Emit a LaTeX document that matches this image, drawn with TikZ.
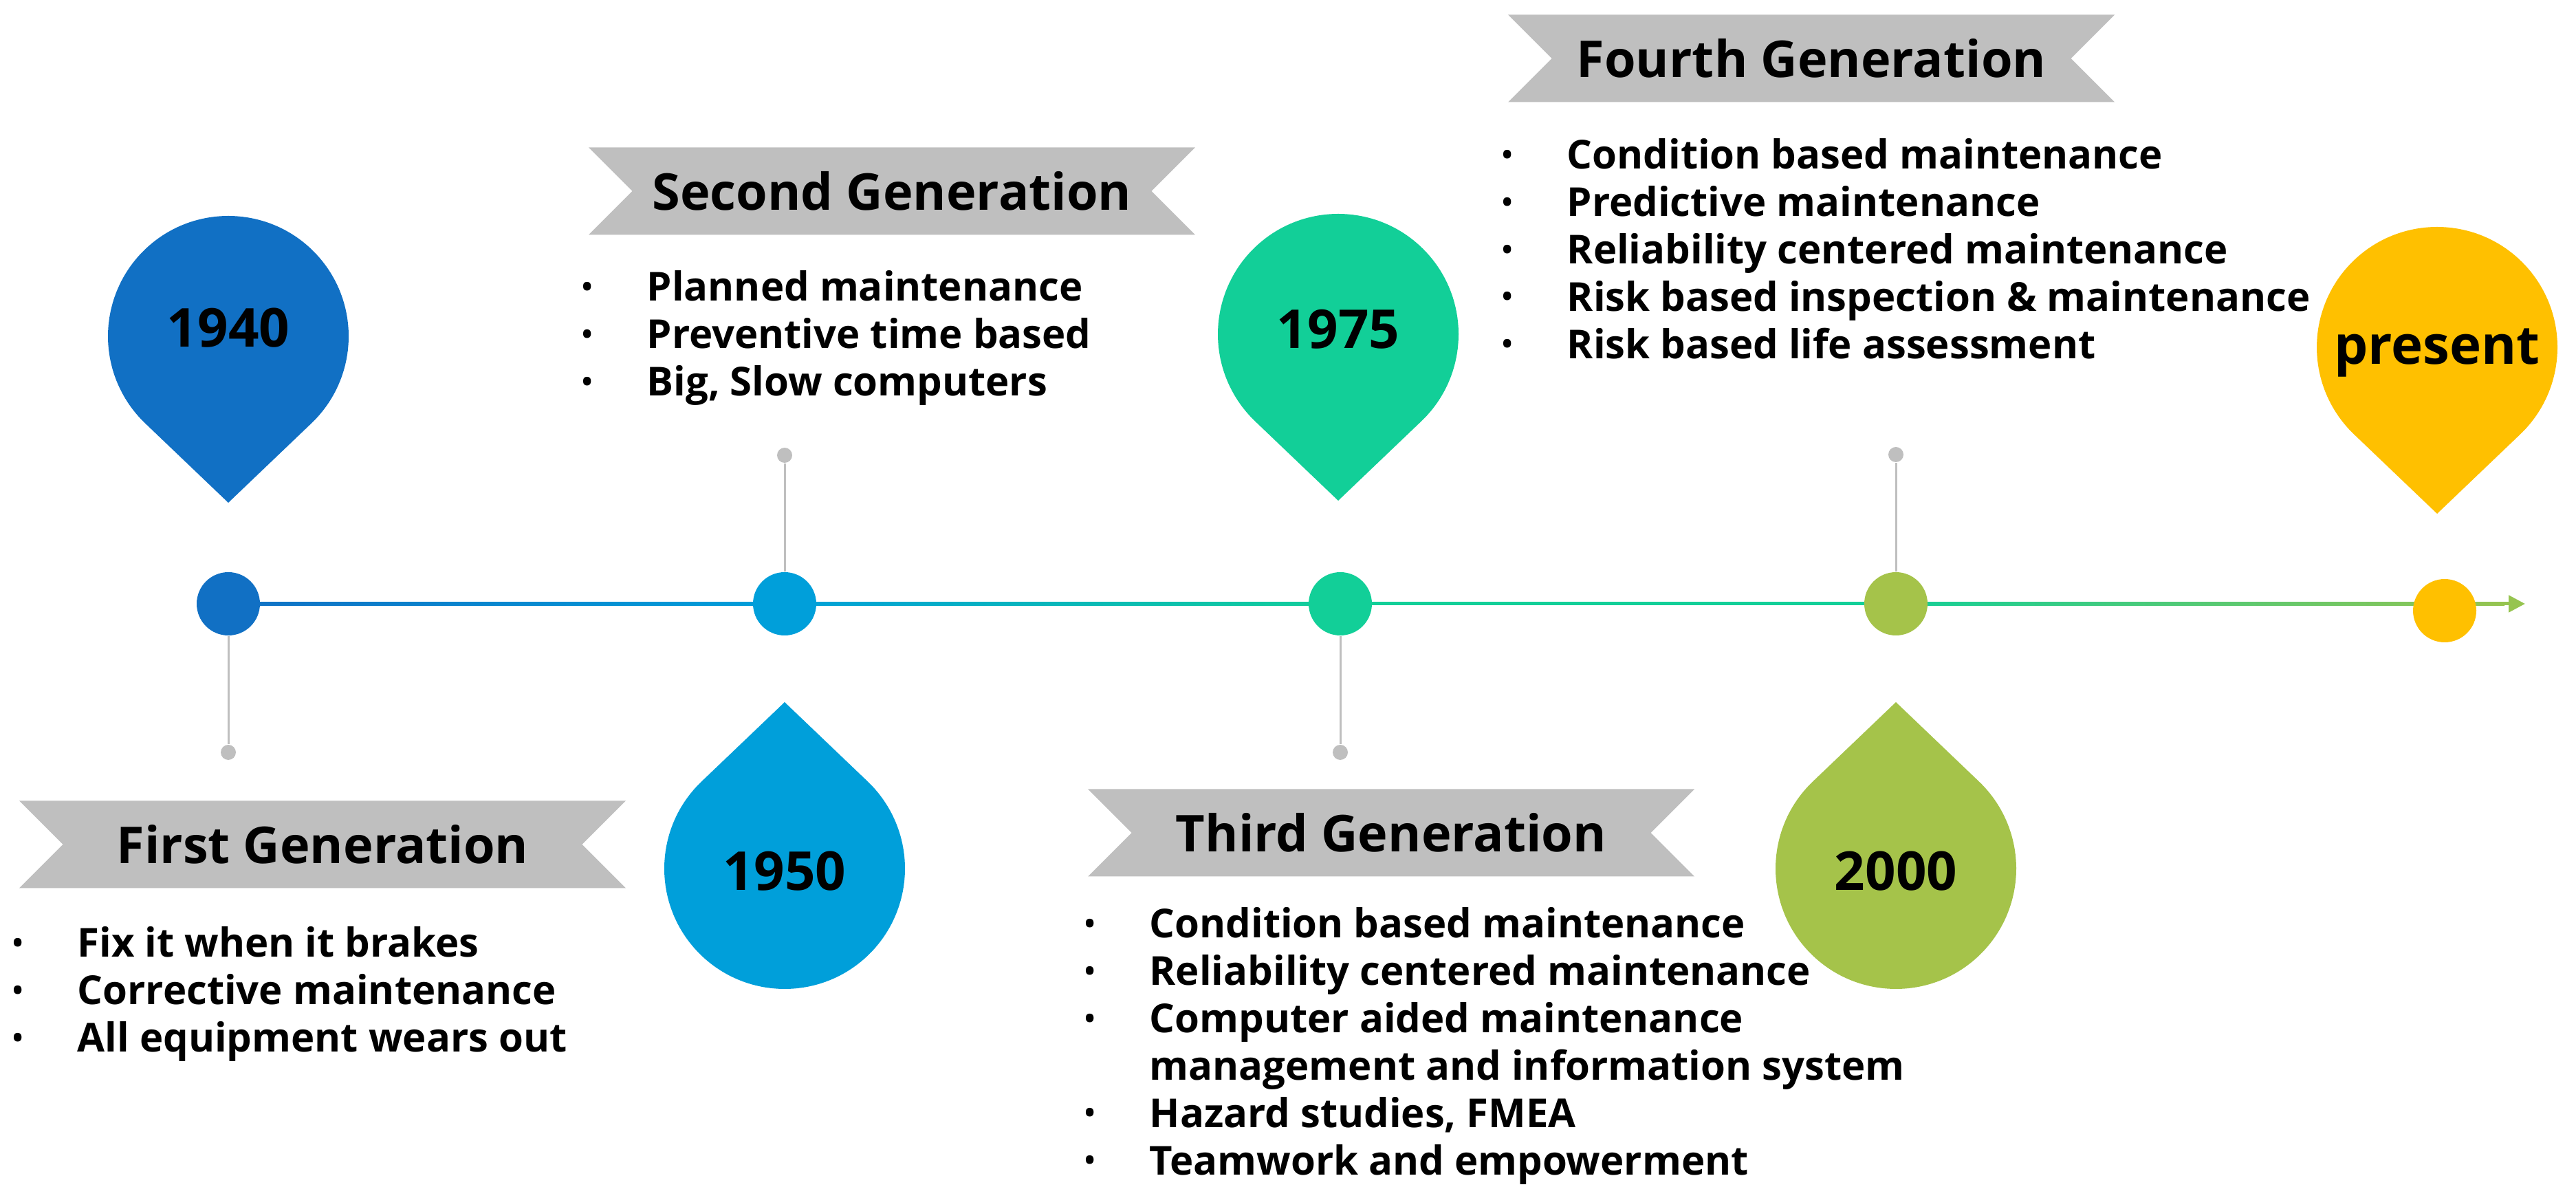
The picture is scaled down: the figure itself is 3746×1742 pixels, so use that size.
\documentclass[tikz,border=0pt]{standalone}
\usepackage{fontspec}
\setmainfont{Open Sans}
\usepackage{array}
\usepackage{tikz}
\usetikzlibrary{shapes.symbols, arrows.meta, calc, backgrounds}
\definecolor{GenBlue}{RGB}{17, 112, 196}
\definecolor{GenSky}{RGB}{0, 159, 218}
\definecolor{GenTeal}{RGB}{18, 207, 152}
\definecolor{GenGreen}{RGB}{165, 195, 74}
\definecolor{GenGold}{RGB}{255, 192, 0}
\definecolor{GenGrey}{RGB}{191, 191, 191}
\definecolor{LineGreen}{RGB}{150, 196, 80}
\newcommand{\gbullet}{\raisebox{1.9pt}{\scalebox{0.7}{\textbullet}}}

\begin{document}
\begin{tikzpicture}[x=0.1mm,y=0.1mm,
  dot/.style={circle, inner sep=0pt, minimum size=9.2mm},
  tip/.style={circle, fill=GenGrey, inner sep=0pt, minimum size=2.2mm},
  stem/.style={GenGrey, line width=0.3mm},
  year/.style={anchor=base, inner sep=0pt, font=\fontsize{22.2}{26}\selectfont\bfseries},
  banner/.style={signal, signal to=nowhere, signal from=west and east, fill=GenGrey,
    minimum width=88.2mm, minimum height=12.7mm, inner sep=0pt,
    font=\fontsize{21}{25}\selectfont\bfseries},
  itemlist/.style={anchor=base west, inner sep=0pt, font=\fontsize{16.5}{19.6}\selectfont\bfseries}]
  \path[use as bounding box] (0,0) rectangle (3746,1742);

  % Timeline dots
  \node[dot, fill=GenBlue] (d1940) at (332,864) {};
  \node[dot, fill=GenSky] (d1950) at (1141,864) {};
  \node[dot, fill=GenTeal] (d1975) at (1949,864) {};
  \node[dot, fill=GenGreen] (d2000) at (2757,864) {};
  \node[dot, fill=GenGold] (dnow) at (3555,854) {};
  \coordinate (tlend) at (3672,864);

  % Timeline line
  \begin{scope}[on background layer]
    \path[left color=GenBlue, right color=GenSky] ($(d1940.center)+(0,-2.5)$) rectangle ($(d1950.center)+(0,2.5)$);
    \path[left color=GenSky, right color=GenTeal] ($(d1950.center)+(0,-2.5)$) rectangle ($(d1975.center)+(0,2.5)$);
    \path[fill=GenTeal] ($(d1975.center)+(0,-2.5)$) rectangle ($(d2000.center)+(0,2.5)$);
    \path[left color=GenTeal, right color=LineGreen] ($(d2000.center)+(0,-2.5)$) rectangle ($(tlend)+(-30,2.5)$);
  \end{scope}
  \draw[LineGreen, line width=0.5mm, -{Triangle[length=2.4mm,width=2.4mm]}] ($(tlend)+(-32,0)$) -- (tlend);

  % Stems and tips
  \node[tip] (t1940) at (332,648) {};
  \node[tip] (t1950) at (1141,1080) {};
  \node[tip] (t1975) at (1949,648) {};
  \node[tip] (t2000) at (2757,1081) {};
  \draw[stem] (d1940) -- (t1940);
  \draw[stem] (d1950) -- (t1950);
  \draw[stem] (d1975) -- (t1975);
  \draw[stem] (d2000) -- (t2000);

  % Pins
  \foreach \px/\py/\dir/\col in {332/1253/-1/GenBlue, 1141/479/1/GenSky,
    1946/1256/-1/GenTeal, 2757/479/1/GenGreen, 3544/1237/-1/GenGold}{
    \fill[\col] ($(\px,\py)+(\dir*90:242)$) -- ($(\px,\py)+(\dir*90+43.7:175)$)
      arc[start angle=\dir*90+43.7, delta angle=272.6, radius=175] -- cycle;
  }
  \node[year] (y1940) at (332,1237) {1940};
  \node[year] (y1950) at (1141,447) {1950};
  \node[year] (y1975) at (1946,1235) {1975};
  \node[year] (y2000) at (2757,447) {2000};
  \node[year] (ynow) at (3544,1212) {present};

  % Generation banners
  \node[banner] (g1) at (469,514) {First Generation};
  \node[banner] (g2) at (1297,1464) {Second Generation};
  \node[banner] (g3) at (2023,531) {Third Generation};
  \node[banner] (g4) at (2634,1657) {Fourth Generation};

  % Bullet lists
  \node[itemlist] (l1) at (18,350) {\begin{tabular}[t]{@{}p{9.4mm}@{}l@{}}
    \gbullet & Fix it when it brakes\\
    \gbullet & Corrective maintenance\\
    \gbullet & All equipment wears out
  \end{tabular}};
  \node[itemlist] (l2) at (846,1304) {\begin{tabular}[t]{@{}p{9.4mm}@{}l@{}}
    \gbullet & Planned maintenance\\
    \gbullet & Preventive time based\\
    \gbullet & Big, Slow computers
  \end{tabular}};
  \node[itemlist] (l3) at (1577,378) {\begin{tabular}[t]{@{}p{9.4mm}@{}l@{}}
    \gbullet & Condition based maintenance\\
    \gbullet & Reliability centered maintenance\\
    \gbullet & Computer aided maintenance\\
             & management and information system\\
    \gbullet & Hazard studies, FMEA\\
    \gbullet & Teamwork and empowerment
  \end{tabular}};
  \node[itemlist] (l4) at (2184,1496) {\begin{tabular}[t]{@{}p{9.4mm}@{}l@{}}
    \gbullet & Condition based maintenance\\
    \gbullet & Predictive maintenance\\
    \gbullet & Reliability centered maintenance\\
    \gbullet & Risk based inspection \& maintenance\\
    \gbullet & Risk based life assessment
  \end{tabular}};
\end{tikzpicture}
\end{document}
